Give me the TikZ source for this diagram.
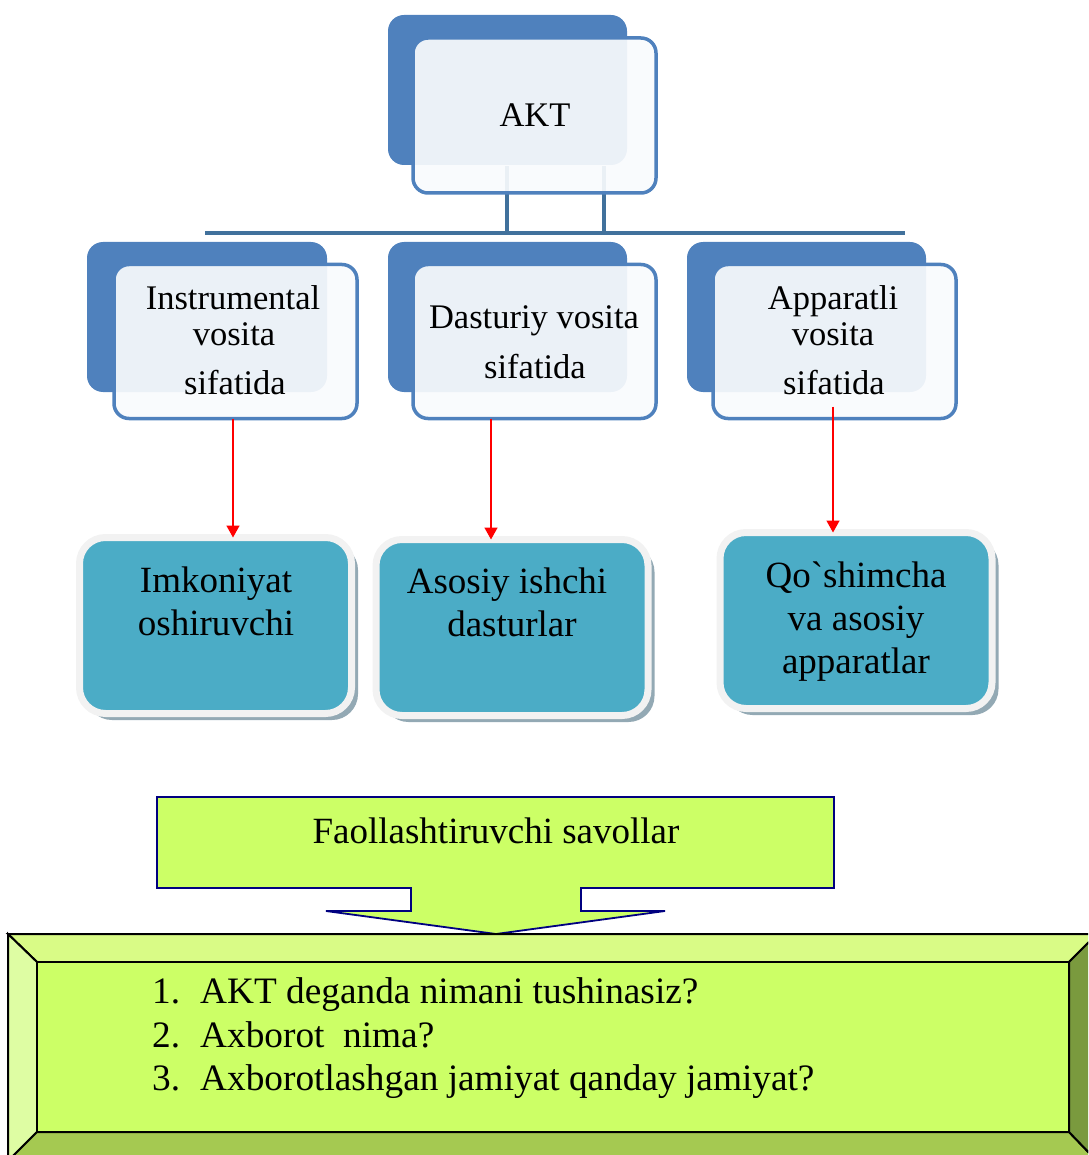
\documentclass[tikz,border=0pt]{standalone}
\usepackage{fontspec}
\setmainfont{Liberation Serif}
\newfontfamily\rawserif{Liberation Serif}[Ligatures=TeXOff]
\usetikzlibrary{shadows,arrows.meta}
\definecolor{accentblue}{HTML}{4F81BD}
\definecolor{linkblue}{HTML}{41719C}
\definecolor{cardfill}{HTML}{F9FBFD}
\definecolor{tealfill}{HTML}{4BACC6}
\definecolor{rimgray}{HTML}{F2F2F2}
\definecolor{shadowgray}{HTML}{93A9B4}
\definecolor{limefill}{HTML}{CCFF66}
\definecolor{navyline}{HTML}{000080}
\definecolor{bevtop}{HTML}{D9FB86}
\definecolor{bevleft}{HTML}{DEFDA3}
\definecolor{bevbottom}{HTML}{A5C951}
\definecolor{bevright}{HTML}{7A9A3E}

\begin{document}
\begin{tikzpicture}[x=1pt,y=-1pt,
  backcard/.style={fill=accentblue, rounded corners=16pt},
  frontcard/.style={draw=accentblue, line width=3.5pt, fill=cardfill, fill opacity=0.92,
    rounded corners=15pt, minimum width=243pt, minimum height=154pt, inner sep=0pt, outer sep=0pt},
  cardtext/.style={font=\fontsize{34.5}{40}\selectfont, anchor=base, inner sep=0pt},
  tealcard/.style={draw=rimgray, line width=7pt, fill=tealfill, rounded corners=26pt,
    minimum width=272pt, minimum height=176pt, inner sep=0pt, outer sep=0pt,
    drop shadow={shadow xshift=6.5pt, shadow yshift=-6.5pt, fill=shadowgray, opacity=1}},
  tealtext/.style={font=\fontsize{37}{43}\selectfont, anchor=base, inner sep=0pt},
  redarrow/.style={draw=red, line width=1.6pt, -{Triangle[length=12pt, width=13pt]}},
  link/.style={draw=linkblue, line width=4pt},
  bevel/.style={draw=black, line width=2pt, line join=miter},
  listtext/.style={font=\fontsize{37.3}{43}\selectfont, anchor=base west, inner sep=0pt}
]
\useasboundingbox (0,0) rectangle (1088,1155);
\clip (0,0) rectangle (1088,1155);

% ---- root card, with its links to the bar behind the front face ----
\fill[backcard] (388,15) rectangle (627,165);
\coordinate (barL) at (205,233);
\coordinate (barR) at (905,233);
\coordinate (j1) at (507,233);
\coordinate (j2) at (604,233);
\coordinate (k1) at (507,166);
\coordinate (k2) at (604,166);
\draw[link] (barL) -- (barR);
\draw[link] (k1) -- (j1);
\draw[link] (k2) -- (j2);
\node[frontcard, minimum height=155pt] (akt) at (534.5,115.5) {};
\node[cardtext] (akttext) at (535,127) {AKT};

% ---- second level cards ----
\fill[backcard] (87,242) rectangle (327,392);
\fill[backcard] (388,242) rectangle (627,392);
\fill[backcard] (687,242) rectangle (926,392);
\node[frontcard] (c1) at (235.5,341.5) {};
\node[frontcard] (c2) at (534.5,341.5) {};
\node[frontcard] (c3) at (834.5,341.5) {};

\node[cardtext] (c1a) at (233,309) {Instrumental};
\node[cardtext] (c1b) at (234,345) {vosita};
\node[cardtext] (c1c) at (235,394) {sifatida};

\node[cardtext] (c2a) at (534,328) {Dasturiy vosita};
\node[cardtext] (c2b) at (535,378) {sifatida};

\node[cardtext] (c3a) at (833,309) {Apparatli};
\node[cardtext] (c3b) at (833,345) {vosita};
\node[cardtext] (c3c) at (834,394) {sifatida};

% ---- third level cards ----
\node[tealcard] (t1) at (215.5,625.5) {};
\node[tealcard] (t2) at (512,627.5) {};
\node[tealcard] (t3) at (856,620.5) {};

\node[tealtext] (t1a) at (216,592) {Imkoniyat};
\node[tealtext] (t1b) at (216,635) {oshiruvchi};

\node[tealtext] (t2a) at (507,593) {Asosiy ishchi};
\node[tealtext] (t2b) at (512,636) {dasturlar};

\node[tealtext] (t3a) at (856,587) {Qo{\rawserif`}shimcha};
\node[tealtext] (t3b) at (856,630) {va asosiy};
\node[tealtext] (t3c) at (856,673) {apparatlar};

% ---- red arrows ----
\coordinate (x1) at (233,0);
\coordinate (x2) at (491,0);
\coordinate (x3) at (833,0);
\draw[redarrow] (c1.south -| x1) -- (t1.north -| x1);
\draw[redarrow] (c2.south -| x2) -- (t2.north -| x2);
\draw[redarrow] (c3.south -| x3) ++(0,-12) -- (t3.north -| x3);

% ---- callout arrow ----
\draw[fill=limefill, draw=navyline, line width=1.8pt, line join=miter]
  (157,797) -- (834,797) -- (834,888) -- (581,888) -- (581,911) -- (665,911)
  -- (496,934) -- (326,911) -- (411,911) -- (411,888) -- (157,888) -- cycle;
\node[font=\fontsize{37}{40}\selectfont, anchor=base, inner sep=0pt] (callout) at (496,843) {Faollashtiruvchi savollar};

% ---- bevelled question panel ----
\draw[bevel, fill=bevtop] (8,934) -- (1097,934) -- (1069,962) -- (37,962) -- cycle;
\draw[bevel, fill=bevleft] (8,934) -- (37,962) -- (37,1132) -- (8,1161) -- cycle;
\draw[bevel, fill=bevbottom] (37,1132) -- (1069,1132) -- (1097,1161) -- (8,1161) -- cycle;
\draw[bevel, fill=bevright] (1069,962) -- (1097,934) -- (1097,1161) -- (1069,1132) -- cycle;
\draw[bevel, fill=limefill] (37,962) rectangle (1069,1132);

\node[listtext] (n1) at (152,1003) {1.};
\node[listtext] (q1) at (200,1003) {AKT deganda nimani tushinasiz?};
\node[listtext] (n2) at (152,1047) {2.};
\node[listtext] (q2) at (200,1047) {Axborot\ \ nima?};
\node[listtext] (n3) at (152,1090) {3.};
\node[listtext] (q3) at (200,1090) {Axborotlashgan jamiyat qanday jamiyat?};
\end{tikzpicture}
\end{document}
